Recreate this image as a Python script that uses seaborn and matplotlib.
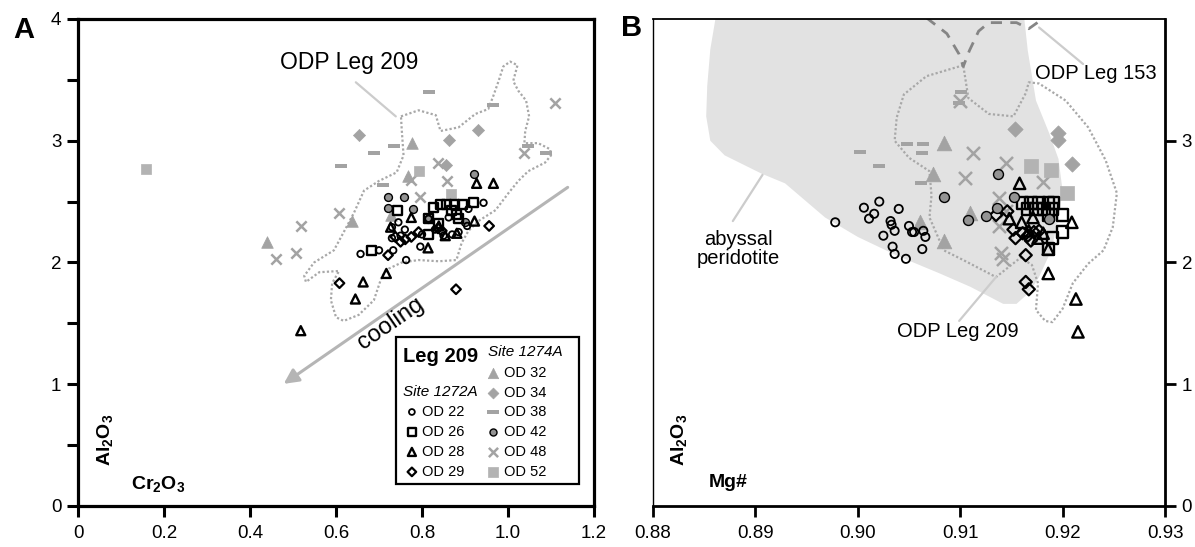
import numpy as np
import pandas as pd
import matplotlib
matplotlib.use("Agg")
import matplotlib.pyplot as plt
import seaborn as sns
from matplotlib.patches import Polygon, Rectangle, FancyArrowPatch

sns.set_theme(style="ticks")
plt.rcParams["font.family"] = ["Liberation Sans", "DejaVu Sans"]
plt.rcParams["mathtext.fontset"] = "custom"
plt.rcParams["mathtext.rm"] = "Liberation Sans"
plt.rcParams["mathtext.bf"] = "Liberation Sans:bold"
plt.rcParams["mathtext.it"] = "Liberation Sans:italic"
for k in ["text.color", "axes.labelcolor", "xtick.color", "ytick.color", "axes.edgecolor"]:
    plt.rcParams[k] = "black"

# ---------------- Panel A: Cr2O3 vs Al2O3 (wt%) ----------------
a_od22_cr = [0.657, 0.763, 0.733, 0.796, 0.730, 0.943, 0.908, 0.862, 0.885, 0.870,
             0.850, 0.800, 0.750, 0.730, 0.745, 0.815, 0.905, 0.700, 0.760, 0.830]
a_od22_al = [2.07, 2.02, 2.10, 2.13, 2.29, 2.49, 2.44, 2.37, 2.25, 2.23,
             2.22, 2.23, 2.22, 2.20, 2.33, 2.36, 2.30, 2.10, 2.27, 2.27]
a_od26_cr = [0.744, 0.683, 0.827, 0.842, 0.858, 0.876, 0.894, 0.920, 0.881, 0.814,
             0.885, 0.869, 0.839, 0.815]
a_od26_al = [2.43, 2.10, 2.45, 2.48, 2.48, 2.48, 2.48, 2.49, 2.39, 2.36,
             2.36, 2.43, 2.32, 2.23]
a_od28_cr = [0.927, 0.966, 0.775, 0.922, 0.814, 0.717, 0.663, 0.645, 0.518, 0.854,
             0.881, 0.727, 0.839]
a_od28_al = [2.65, 2.65, 2.37, 2.34, 2.12, 1.91, 1.84, 1.70, 1.44, 2.22,
             2.24, 2.29, 2.30]
a_od29_cr = [0.608, 0.879, 0.956, 0.721, 0.750, 0.775, 0.792, 0.761, 0.738, 0.837, 0.846]
a_od29_al = [1.83, 1.78, 2.30, 2.06, 2.17, 2.21, 2.25, 2.19, 2.21, 2.28, 2.26]
a_od32_cr = [0.777, 0.768, 0.638, 0.439, 0.727]
a_od32_al = [2.98, 2.71, 2.34, 2.17, 2.39]
a_od34_cr = [0.653, 0.863, 0.929, 0.856]
a_od34_al = [3.05, 3.01, 3.09, 2.80]
a_od38_cr = [0.817, 0.964, 0.734, 0.688, 0.612, 0.709, 1.047, 1.089]
a_od38_al = [3.40, 3.29, 2.96, 2.90, 2.79, 2.64, 2.96, 2.90]
a_od42_cr = [0.720, 0.759, 0.720, 0.779, 0.920, 0.900, 0.815]
a_od42_al = [2.54, 2.54, 2.45, 2.44, 2.73, 2.33, 2.36]
a_od48_cr = [0.837, 0.775, 0.858, 0.796, 0.607, 0.518, 0.508, 0.460, 1.037, 1.109]
a_od48_al = [2.82, 2.68, 2.67, 2.54, 2.41, 2.30, 2.08, 2.03, 2.90, 3.31]
a_od52_cr = [0.157, 0.792, 0.867]
a_od52_al = [2.77, 2.75, 2.56]

# ODP Leg 209 field outline (panel A)
a_field_cr = [0.751, 0.792, 0.832, 0.843, 0.885, 0.924, 0.954, 0.966, 0.978, 0.989,
              1.005, 1.022, 1.012, 1.024, 1.042, 1.049, 1.040, 1.038, 1.070, 1.098,
              1.100, 1.086, 1.047, 1.024, 1.001, 0.971, 0.931, 0.908, 0.892, 0.880,
              0.839, 0.792, 0.753, 0.723, 0.707, 0.688, 0.653, 0.618, 0.600, 0.588,
              0.591, 0.607, 0.561, 0.530, 0.526, 0.549, 0.595, 0.618, 0.642, 0.665,
              0.700, 0.741, 0.757, 0.753, 0.751]
a_field_al = [3.20, 3.25, 3.21, 3.08, 3.11, 3.22, 3.26, 3.37, 3.49, 3.61,
              3.65, 3.62, 3.49, 3.41, 3.33, 3.20, 3.08, 2.98, 2.98, 2.93,
              2.88, 2.82, 2.75, 2.67, 2.57, 2.43, 2.34, 2.26, 2.16, 2.02,
              2.01, 2.02, 2.00, 1.95, 1.89, 1.69, 1.57, 1.52, 1.55, 1.69,
              1.83, 1.93, 1.92, 1.84, 1.89, 2.00, 2.10, 2.25, 2.41, 2.59,
              2.67, 2.74, 2.88, 3.08, 3.20]

# ---------------- Panel B: Mg# vs Al2O3 (wt%) ----------------
b_od22_mg = [0.8978, 0.9006, 0.9021, 0.9016, 0.9011, 0.9040, 0.9032, 0.9033, 0.9036, 0.9025,
             0.9050, 0.9053, 0.9055, 0.9064, 0.9066, 0.9034, 0.9036, 0.9047, 0.9063]
b_od22_al = [2.33, 2.45, 2.50, 2.40, 2.36, 2.44, 2.34, 2.31, 2.26, 2.22,
             2.30, 2.25, 2.25, 2.26, 2.21, 2.13, 2.07, 2.03, 2.11]
b_od26_mg = [0.9161, 0.9169, 0.9177, 0.9186, 0.9191, 0.9166, 0.9174, 0.9182, 0.9190, 0.9186,
             0.9200, 0.9190, 0.9200, 0.9186]
b_od26_al = [2.49, 2.49, 2.49, 2.49, 2.49, 2.44, 2.44, 2.44, 2.44, 2.39,
             2.39, 2.20, 2.25, 2.11]
b_od28_mg = [0.9158, 0.9148, 0.9160, 0.9171, 0.9181, 0.9209, 0.9186, 0.9213, 0.9215, 0.9186,
             0.9167, 0.9176]
b_od28_al = [2.65, 2.36, 2.33, 2.37, 2.24, 2.33, 1.91, 1.70, 1.43, 2.11, 2.26, 2.20]
b_od29_mg = [0.9135, 0.9146, 0.9152, 0.9154, 0.9164, 0.9164, 0.9167, 0.9169, 0.9161, 0.9177,
             0.9166, 0.9172]
b_od29_al = [2.39, 2.42, 2.27, 2.20, 2.06, 1.84, 1.78, 2.18, 2.24, 2.26, 2.22, 2.25]
b_od32_mg = [0.9084, 0.9073, 0.9110, 0.9061, 0.9084]
b_od32_al = [2.98, 2.73, 2.41, 2.33, 2.18]
b_od34_mg = [0.9154, 0.9196, 0.9196, 0.9209]
b_od34_al = [3.10, 3.06, 3.01, 2.81]
b_od38_mg = [0.9101, 0.9099, 0.9002, 0.9048, 0.9064, 0.9063, 0.9021, 0.9062]
b_od38_al = [3.40, 3.31, 2.91, 2.97, 2.97, 2.90, 2.79, 2.65]
b_od42_mg = [0.9137, 0.9084, 0.9153, 0.9136, 0.9125, 0.9108, 0.9187]
b_od42_al = [2.73, 2.54, 2.54, 2.45, 2.38, 2.35, 2.36]
b_od48_mg = [0.9100, 0.9113, 0.9145, 0.9105, 0.9181, 0.9138, 0.9138, 0.9140, 0.9142, 0.9145]
b_od48_al = [3.33, 2.90, 2.82, 2.69, 2.66, 2.53, 2.30, 2.08, 2.03, 2.42]
b_od52_mg = [0.9169, 0.9189, 0.9204]
b_od52_al = [2.79, 2.76, 2.57]

# abyssal peridotite field
b_aby_mg = [0.8862, 0.8856, 0.8853, 0.8852, 0.8856, 0.8870, 0.8906, 0.8929, 0.8968, 0.9000,
            0.9040, 0.9080, 0.9110, 0.9142, 0.9155, 0.9167, 0.9177, 0.9189, 0.9196, 0.9200,
            0.9196, 0.9187, 0.9174, 0.9166, 0.9162]
b_aby_al = [4.05, 3.75, 3.45, 3.20, 3.00, 2.88, 2.73, 2.65, 2.37, 2.21,
            2.05, 1.91, 1.80, 1.66, 1.66, 1.75, 1.88, 2.10, 2.37, 2.59,
            2.85, 3.06, 3.33, 3.74, 4.05]
# ODP Leg 209 field
b_209_mg = [0.9103, 0.9067, 0.9045, 0.9038, 0.9036, 0.9050, 0.9070, 0.9072, 0.9070, 0.9084,
            0.9103, 0.9135, 0.9159, 0.9170, 0.9176, 0.9174, 0.9183, 0.9190, 0.9200, 0.9210,
            0.9225, 0.9240, 0.9249, 0.9253, 0.9242, 0.9225, 0.9203, 0.9177, 0.9167, 0.9164,
            0.9152, 0.9128, 0.9108, 0.9103]
b_209_al = [3.62, 3.53, 3.38, 3.19, 3.00, 2.86, 2.75, 2.55, 2.37, 2.10,
            2.02, 1.88, 2.04, 1.98, 1.83, 1.61, 1.52, 1.51, 1.62, 1.83,
            1.99, 2.10, 2.29, 2.57, 2.84, 3.11, 3.33, 3.47, 3.48, 3.39,
            3.20, 3.22, 3.35, 3.62]
# ODP Leg 153 field (dashed boundary)
b_153_mg = [0.9067, 0.9087, 0.9099, 0.9103, 0.9109, 0.9118, 0.9128, 0.9155, 0.9167, 0.9177, 0.9181]
b_153_al = [4.01, 3.88, 3.71, 3.61, 3.74, 3.90, 3.97, 3.97, 3.92, 3.98, 4.03]

GRAY = "#a3a3a3"
GRAY_SQ = "#b3b3b3"
DASH = [(-1, -0.34), (1, -0.34), (1, 0.34), (-1, 0.34), (-1, -0.34)]

# marker styles per sample: (marker, face, edge, linewidth, size)
styles = {
    "OD 22": ("o", "none", "black", 1.3, 22),
    "OD 26": ("s", "none", "black", 1.7, 42),
    "OD 28": ("^", "none", "black", 1.7, 42),
    "OD 29": ("D", "none", "black", 1.6, 24),
    "OD 32": ("^", GRAY, GRAY, 0.5, 70),
    "OD 34": ("D", GRAY, GRAY, 0.5, 38),
    "OD 38": (DASH, GRAY, GRAY, 0.0, 72),
    "OD 42": ("o", "#939393", "black", 1.0, 32),
    "OD 48": ("x", GRAY, GRAY, 1.8, 55),
    "OD 52": ("s", GRAY_SQ, GRAY_SQ, 0.5, 55),
}

panel_a = {
    "OD 32": (a_od32_cr, a_od32_al), "OD 34": (a_od34_cr, a_od34_al),
    "OD 38": (a_od38_cr, a_od38_al), "OD 48": (a_od48_cr, a_od48_al),
    "OD 52": (a_od52_cr, a_od52_al), "OD 42": (a_od42_cr, a_od42_al),
    "OD 22": (a_od22_cr, a_od22_al), "OD 26": (a_od26_cr, a_od26_al),
    "OD 28": (a_od28_cr, a_od28_al), "OD 29": (a_od29_cr, a_od29_al),
}
panel_b = {
    "OD 32": (b_od32_mg, b_od32_al), "OD 34": (b_od34_mg, b_od34_al),
    "OD 38": (b_od38_mg, b_od38_al), "OD 48": (b_od48_mg, b_od48_al),
    "OD 52": (b_od52_mg, b_od52_al),
    "OD 22": (b_od22_mg, b_od22_al), "OD 26": (b_od26_mg, b_od26_al),
    "OD 28": (b_od28_mg, b_od28_al), "OD 29": (b_od29_mg, b_od29_al),
    "OD 42": (b_od42_mg, b_od42_al),
}


def draw_samples(ax, groups, scale=1.0, dash_scale=1.0):
    for name, (xs, ys) in groups.items():
        m, fc, ec, lw, s = styles[name]
        df = pd.DataFrame({"x": xs, "y": ys})
        size = s * (dash_scale if m is DASH else scale)
        kw = dict(marker=m, s=size, linewidth=lw, zorder=4, legend=False)
        if m == "x":
            sns.scatterplot(data=df, x="x", y="y", ax=ax, color=ec, **kw)
        else:
            sns.scatterplot(data=df, x="x", y="y", ax=ax, facecolor=fc, edgecolor=ec, **kw)


fig = plt.figure(figsize=(11.95, 5.47), dpi=100)
axA = fig.add_axes([0.0653, 0.075, 0.4318, 0.8903])
axB = fig.add_axes([0.5464, 0.075, 0.4285, 0.8903])

# ---------- Panel A ----------
axA.plot(a_field_cr, a_field_al, linestyle=(0, (1, 1)), color="#a8a8a8", lw=1.6, zorder=2)
axA.plot([0.646, 0.739], [3.48, 3.20], color="#cccccc", lw=1.6, zorder=2)
arrow = FancyArrowPatch((1.144, 2.63), (0.473, 0.99), arrowstyle="-|>", mutation_scale=22,
                        color="#b5b5b5", lw=2.2, zorder=2)
axA.add_patch(arrow)
axA.text(0.728, 1.50, "cooling", rotation=34.6, rotation_mode="anchor", ha="center",
         va="center", fontsize=17)
axA.text(0.630, 3.64, "ODP Leg 209", ha="center", va="center", fontsize=16.5)
draw_samples(axA, panel_a)

axA.set_xlim(0, 1.2)
axA.set_ylim(0, 4)
axA.set_xticks([0, 0.2, 0.4, 0.6, 0.8, 1.0, 1.2])
axA.set_xticklabels(["0", "0.2", "0.4", "0.6", "0.8", "1.0", "1.2"])
axA.set_yticks([0, 1, 2, 3, 4])
axA.set_yticklabels(["0", "1", "2", "3", "4"])
axA.set_yticks([0.5, 1.5, 2.5, 3.5], minor=True)
axA.tick_params(axis="both", which="both", direction="out", length=8, width=2.2,
                labelsize=13.5, top=False, right=False, bottom=True, left=True)
axA.tick_params(axis="x", pad=6)
axA.tick_params(axis="y", pad=4)
for sp in axA.spines.values():
    sp.set_linewidth(2.3)
axA.set_xlabel("")
axA.set_ylabel("")
axA.text(0.052, 0.136, r"$\mathbf{Al_2O_3}$", transform=axA.transAxes, rotation=90,
         ha="center", va="center", fontsize=14)
axA.text(0.155, 0.045, r"$\mathbf{Cr_2O_3}$", transform=axA.transAxes,
         ha="center", va="center", fontsize=14)

# legend box
axA.add_patch(Rectangle((0.616, 0.045), 0.355, 0.302, transform=axA.transAxes,
                        facecolor="white", edgecolor="black", lw=1.6, zorder=6))
axA.text(0.630, 0.306, "Leg 209", transform=axA.transAxes, fontsize=14.5,
         fontweight="bold", ha="left", va="center", zorder=7)
axA.text(0.795, 0.316, "Site 1274A", transform=axA.transAxes, fontsize=11,
         style="italic", ha="left", va="center", zorder=7)
axA.text(0.630, 0.234, "Site 1272A", transform=axA.transAxes, fontsize=11,
         style="italic", ha="left", va="center", zorder=7)
left_rows = ["OD 22", "OD 26", "OD 28", "OD 29"]
left_y = [0.193, 0.152, 0.111, 0.070]
right_rows = ["OD 32", "OD 34", "OD 38", "OD 42", "OD 48", "OD 52"]
right_y = [0.273, 0.232, 0.193, 0.152, 0.111, 0.070]
for names, ys, mx, tx in [(left_rows, left_y, 0.647, 0.667), (right_rows, right_y, 0.804, 0.826)]:
    for name, yy in zip(names, ys):
        m, fc, ec, lw, s = styles[name]
        if m == "x":
            axA.scatter([mx], [yy], marker=m, s=s * 0.8, color=ec, linewidths=lw,
                        transform=axA.transAxes, zorder=7, clip_on=False)
        else:
            axA.scatter([mx], [yy], marker=m, s=s * (1.2 if m is DASH else 0.8),
                        facecolors=fc, edgecolors=ec,
                        linewidths=lw, transform=axA.transAxes, zorder=7, clip_on=False)
        axA.text(tx, yy, name, transform=axA.transAxes, fontsize=10.5, ha="left",
                 va="center", zorder=7)

# ---------- Panel B ----------
axB.add_patch(Polygon(np.column_stack([b_aby_mg, b_aby_al]), closed=True,
                      facecolor="#e2e2e2", edgecolor="none", zorder=1))
axB.plot(b_209_mg, b_209_al, linestyle=(0, (1, 1)), color="#a8a8a8", lw=1.6, zorder=2)
axB.plot(b_153_mg, b_153_al, linestyle=(0, (4, 3)), color="#858585", lw=2.0, zorder=2)
axB.plot([0.9177, 0.9220], [3.93, 3.63], color="#cccccc", lw=1.6, zorder=2)
axB.plot([0.8878, 0.8907], [2.34, 2.72], color="#cccccc", lw=1.6, zorder=2)
axB.plot([0.9099, 0.9135], [1.52, 1.88], color="#cccccc", lw=1.6, zorder=2)
axB.text(0.9232, 3.55, "ODP Leg 153", ha="center", va="center", fontsize=14.5)
axB.text(0.8883, 2.11, "abyssal\nperidotite", ha="center", va="center", fontsize=14.5,
         linespacing=1.05)
axB.text(0.9098, 1.43, "ODP Leg 209", ha="center", va="center", fontsize=14.5)
draw_samples(axB, panel_b, scale=1.6, dash_scale=1.2)

axB.set_xlim(0.88, 0.93)
axB.set_ylim(0, 4)
axB.set_xticks([0.88, 0.89, 0.90, 0.91, 0.92, 0.93])
axB.set_xticklabels(["0.88", "0.89", "0.90", "0.91", "0.92", "0.93"])
axB.yaxis.tick_right()
axB.set_yticks([0, 1, 2, 3])
axB.set_yticklabels(["0", "1", "2", "3"])
axB.tick_params(axis="both", direction="out", length=8, width=2.0, labelsize=13.5,
                bottom=True, top=False, left=False, right=True)
axB.tick_params(axis="x", pad=6)
axB.tick_params(axis="y", pad=4)
axB.spines["left"].set_linewidth(1.0)
axB.spines["top"].set_linewidth(1.3)
axB.spines["right"].set_linewidth(2.0)
axB.spines["bottom"].set_linewidth(2.0)
axB.set_xlabel("")
axB.set_ylabel("")
axB.text(0.050, 0.136, r"$\mathbf{Al_2O_3}$", transform=axB.transAxes, rotation=90,
         ha="center", va="center", fontsize=14)
axB.text(0.147, 0.048, "Mg#", transform=axB.transAxes, fontweight="bold",
         ha="center", va="center", fontsize=14)

fig.text(24 / 1195, 1 - 30 / 547, "A", fontsize=21, fontweight="bold", ha="center", va="center")
fig.text(632 / 1195, 1 - 28 / 547, "B", fontsize=21, fontweight="bold", ha="center", va="center")

fig.savefig("out.png", dpi=100)
